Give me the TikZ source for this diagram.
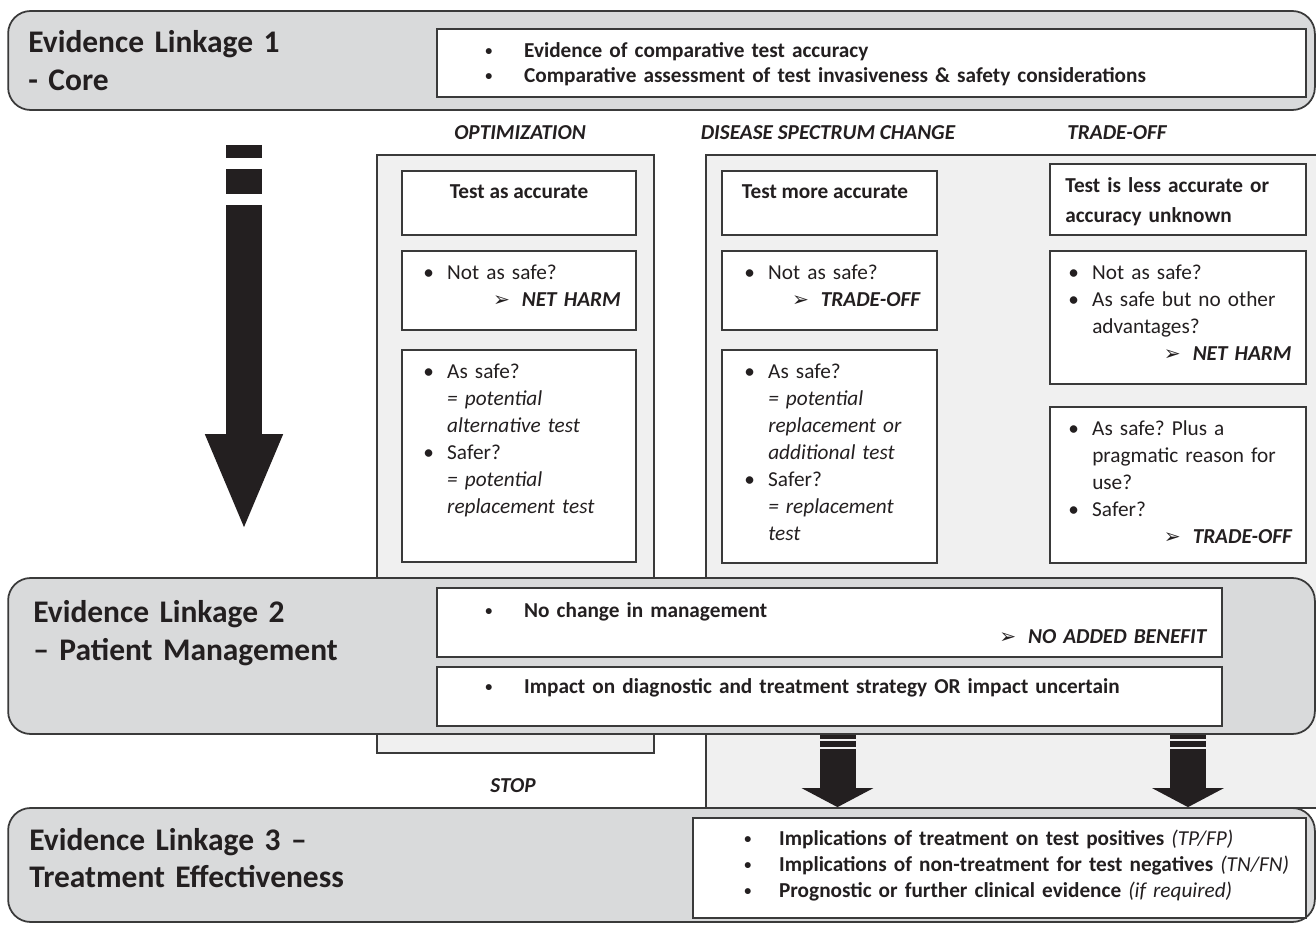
\documentclass[tikz,border=0pt]{standalone}
\usepackage{fontspec}
\setmainfont{Carlito}
\newfontfamily\dejavu{DejaVu Sans}
\usepackage{xcolor}
\usepackage{tikz}
\usetikzlibrary{arrows.meta}
\frenchspacing

\definecolor{bandgray}{HTML}{D9DADB}
\definecolor{panegray}{HTML}{F0F0F0}
\definecolor{edgegray}{HTML}{3A3A3A}
\definecolor{inkblack}{HTML}{231F20}

\newcommand{\itm}[1][13.6pt]{\makebox[#1][l]{\textbullet}}
\newcommand{\sitm}[1][22.1pt]{\makebox[#1][l]{\raisebox{1.3pt}{\fontsize{8}{8}\selectfont\bfseries\textbullet}}}
\newcommand{\indt}{\hspace*{13.6pt}}
\newcommand{\tipmark}{\makebox[16.4pt][l]{{\dejavu\fontsize{11.5}{11.5}\selectfont ➢}}}
\newcommand{\verdict}[1]{\textbf{\textit{#1}}}

\begin{document}
\begin{tikzpicture}[x=0.02cm, y=-0.02cm,
  every node/.style={font=\fontsize{12.1}{15.3}\selectfont, text=inkblack},
  band/.style={draw=edgegray, line width=1pt, fill=bandgray, rounded corners=0.45cm, minimum width=26.14cm},
  pane/.style={draw=edgegray, line width=1pt, fill=panegray},
  card/.style={draw=edgegray, line width=1pt, fill=white},
  title/.style={anchor=base west, inner sep=0pt, align=left, text width=9cm, font=\fontsize{17.9}{21.5}\selectfont\bfseries},
  txt/.style={anchor=base west, inner sep=0pt, align=left, text width=#1},
  txt/.default=5cm,
  head/.style={anchor=base, inner sep=0pt, font=\fontsize{12.1}{15.3}\selectfont\bfseries\itshape},
  lead/.style={anchor=base, inner sep=0pt, font=\fontsize{12.1}{15.3}\selectfont\bfseries},
  block/.style={inkblack, line width=0.72cm, -{Triangle[width=1.4cm,length=1.96cm]}},
  drop/.style={inkblack, line width=0.72cm, -{Triangle[width=1.42cm,length=0.38cm]},
    dash pattern=on 0.08cm off 0.04cm on 0.12cm off 0.04cm on 3cm}
]
  \useasboundingbox (0,0) rectangle (1316,925);

  \node[pane, minimum width=5.54cm, minimum height=11.96cm] (optpane) at (515.5,454) {};
  \node[pane, minimum width=12.48cm, minimum height=13.06cm] (altpane) at (1018,481.5) {};
  \node[band, minimum height=1.98cm] (lk1) at (661.5,60.5) {};
  \node[band, minimum height=3.12cm] (lk2) at (661.5,656) {};
  \node[band, minimum height=2.28cm] (lk3) at (661.5,865) {};

  \node[card, minimum width=17.38cm, minimum height=1.36cm] (core) at (871.5,63) {};
  \node[card, minimum width=4.68cm, minimum height=1.28cm] (opt1) at (519,203) {};
  \node[card, minimum width=4.68cm, minimum height=1.58cm] (opt2) at (519,290.5) {};
  \node[card, minimum width=4.68cm, minimum height=4.24cm] (opt3) at (519,456) {};
  \node[card, minimum width=4.3cm, minimum height=1.28cm] (dsc1) at (829.5,203) {};
  \node[card, minimum width=4.3cm, minimum height=1.58cm] (dsc2) at (829.5,290.5) {};
  \node[card, minimum width=4.3cm, minimum height=4.26cm] (dsc3) at (829.5,456.5) {};
  \node[card, minimum width=5.12cm, minimum height=1.42cm] (off1) at (1178,199.5) {};
  \node[card, minimum width=5.12cm, minimum height=2.66cm] (off2) at (1178,317.5) {};
  \node[card, minimum width=5.12cm, minimum height=3.12cm] (off3) at (1178,485) {};
  \node[card, minimum width=15.7cm, minimum height=1.38cm] (mgmt1) at (829.5,622.5) {};
  \node[card, minimum width=15.7cm, minimum height=1.18cm] (mgmt2) at (829.5,696.5) {};
  \node[card, minimum width=12.26cm, minimum height=2cm] (treat) at (999.5,868) {};

  \node[title] (lk1t) at (28,53) {Evidence Linkage 1\\- Core};
  \node[title] (lk2t) at (33,623) {Evidence Linkage 2\\– Patient Management};
  \node[title] (lk3t) at (29,850) {Evidence Linkage 3 –\\Treatment Effectiveness};

  \node[txt=16cm, font=\fontsize{12.1}{14.2}\selectfont\bfseries] (coret) at (485,58)
    {\sitm Evidence of comparative test accuracy\\
     \sitm Comparative assessment of test invasiveness \& safety considerations};

  \node[head] (opth) at (520,140) {OPTIMIZATION};
  \node[head] (dsch) at (828,140) {DISEASE SPECTRUM CHANGE};
  \node[head] (offh) at (1117,140) {TRADE-OFF};

  \node[lead] (opt1t) at (519,199) {Test as accurate};
  \node[txt] (opt2t) at (423,280) {\itm Not as safe?\\ \hspace*{39.7pt}\tipmark\verdict{NET HARM}};
  \node[txt] (opt3t) at (423,379)
    {\itm As safe?\\ \indt\textit{= potential}\\ \indt\textit{alternative test}\\
     \itm Safer?\\ \indt\textit{= potential}\\ \indt\textit{replacement test}};

  \node[lead] (dsc1t) at (825,199) {Test more accurate};
  \node[txt] (dsc2t) at (744,280) {\itm Not as safe?\\ \hspace*{27.2pt}\tipmark\verdict{TRADE-OFF}};
  \node[txt] (dsc3t) at (744,379)
    {\itm As safe?\\ \indt\textit{= potential}\\ \indt\textit{replacement or}\\ \indt\textit{additional test}\\
     \itm Safer?\\ \indt\textit{= replacement}\\ \indt\textit{test}};

  \node[txt, font=\fontsize{12.1}{17}\selectfont\bfseries] (off1t) at (1065,193) {Test is less accurate or\\accuracy unknown};
  \node[txt] (off2t) at (1068,280)
    {\itm Not as safe?\\ \itm As safe but no other\\ \indt advantages?\\ \hspace*{54.4pt}\tipmark\verdict{NET HARM}};
  \node[txt] (off3t) at (1068,436)
    {\itm As safe? Plus a\\ \indt pragmatic reason for\\ \indt use?\\ \itm Safer?\\ \hspace*{54.4pt}\tipmark\verdict{TRADE-OFF}};

  \node[txt=15cm, font=\fontsize{12.1}{14.7}\selectfont] (mgmt1t) at (485,618)
    {\sitm\textbf{No change in management}\\ \hspace*{292.5pt}\tipmark\verdict{NO ADDED BENEFIT}};
  \node[txt=15cm, font=\fontsize{12.1}{14.7}\selectfont\bfseries] (mgmt2t) at (485,694)
    {\sitm Impact on diagnostic and treatment strategy OR impact uncertain};

  \node[head] (stop) at (513,792) {STOP};

  \node[txt=12cm, font=\fontsize{12.1}{14.7}\selectfont\bfseries] (treatt) at (744,846)
    {\sitm[19.8pt]Implications of treatment on test positives {\mdseries\itshape (TP/FP)}\\
     \sitm[19.8pt]Implications of non-treatment for test negatives {\mdseries\itshape (TN/FN)}\\
     \sitm[19.8pt]Prognostic or further clinical evidence {\mdseries\itshape (if required)}};

  \coordinate (flowtop) at (244,145);
  \coordinate (flowend) at (244,532);
  \draw[block, dash pattern=on 0.26cm off 0.22cm on 0.5cm off 0.22cm on 10cm] (flowtop) -- (flowend);
  \coordinate (leftdrop) at (837.5,0);
  \coordinate (rightdrop) at (1188,0);
  \draw[drop] (lk2.south -| leftdrop) -- (lk3.north -| leftdrop);
  \draw[drop] (lk2.south -| rightdrop) -- (lk3.north -| rightdrop);
\end{tikzpicture}
\end{document}
